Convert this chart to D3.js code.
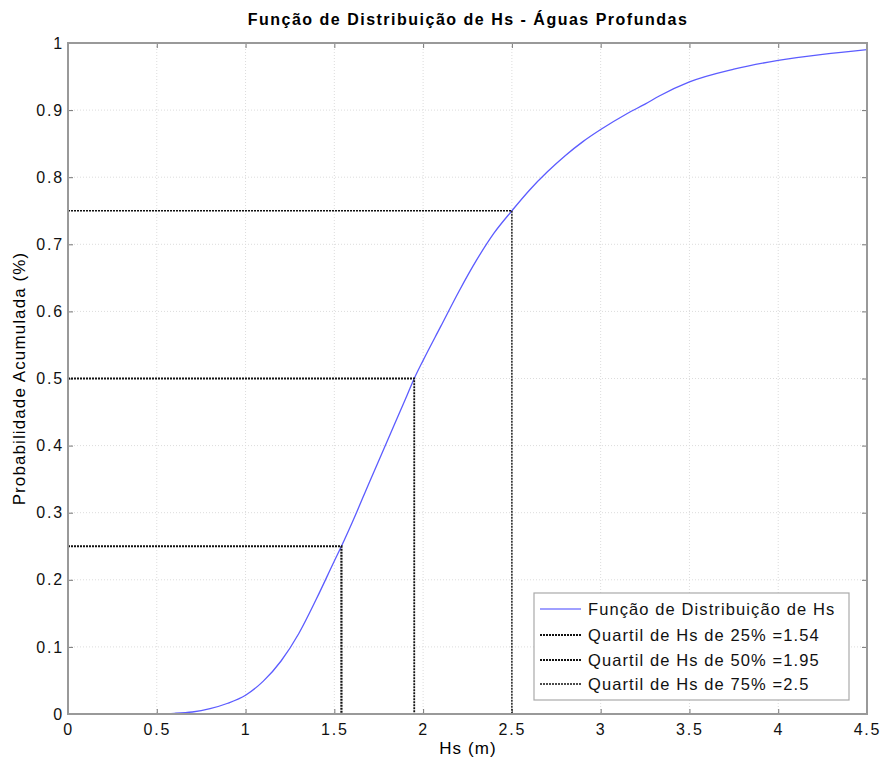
<!DOCTYPE html>
<html><head><meta charset="utf-8">
<script src="https://cdn.jsdelivr.net/npm/d3@7"></script>
<style>body{margin:0;background:#fff;} text{font-family:"Liberation Sans",Arial,sans-serif;}</style>
</head><body>
<svg id="chart" width="885" height="762"></svg>
<script>
const hsValues = [0.45,0.55,0.6,0.7,0.8,0.9,1.0,1.1,1.2,1.3,1.4,1.5,1.54,1.6,1.7,1.8,1.9,1.95,2.0,2.1,2.2,2.3,2.4,2.5,2.6,2.7,2.8,2.9,3.0,3.15,3.25,3.33,3.5,3.75,4.0,4.25,4.5];
const cdfValues = [0,0.0005,0.001,0.003,0.008,0.016,0.028,0.049,0.079,0.12,0.172,0.228,0.25,0.285,0.347,0.408,0.469,0.5,0.527,0.578,0.629,0.676,0.717,0.75,0.781,0.808,0.832,0.853,0.871,0.895,0.909,0.921,0.942,0.961,0.974,0.983,0.99];
const quartileProbs = [0.25,0.5,0.75];
const quartileHs = [1.54,1.95,2.5];
const legendLabels = ["Função de Distribuição de Hs","Quartil de Hs de 25% =1.54","Quartil de Hs de 50% =1.95","Quartil de Hs de 75% =2.5"];
const xTicks = [0,0.5,1,1.5,2,2.5,3,3.5,4,4.5];
const yTicks = [0,0.1,0.2,0.3,0.4,0.5,0.6,0.7,0.8,0.9,1];

const svg = d3.select("#chart");
const L=68, R=867, T=43, B=714;
const x = d3.scaleLinear().domain([0,4.5]).range([L,R]);
const y = d3.scaleLinear().domain([0,1]).range([B,T]);

// grid
const g = svg.append("g");
g.selectAll(".gx").data(xTicks.slice(1,-1)).enter().append("line")
  .attr("x1",d=>x(d)).attr("x2",d=>x(d)).attr("y1",T).attr("y2",B)
  .attr("stroke","#dcdcdc").attr("stroke-width",1).attr("stroke-dasharray","1,2");
g.selectAll(".gy").data(yTicks.slice(1,-1)).enter().append("line")
  .attr("y1",d=>y(d)).attr("y2",d=>y(d)).attr("x1",L).attr("x2",R)
  .attr("stroke","#dcdcdc").attr("stroke-width",1).attr("stroke-dasharray","1,2");

// axes
const xAxisB = d3.axisBottom(x).tickValues(xTicks).tickSize(-5).tickPadding(10).tickFormat(d=>String(d));
const xAxisT = d3.axisTop(x).tickValues(xTicks).tickSize(-5).tickFormat("");
const yAxisL = d3.axisLeft(y).tickValues(yTicks).tickSize(-5).tickPadding(4).tickFormat(d=>String(d));
const yAxisR = d3.axisRight(y).tickValues(yTicks).tickSize(-5).tickFormat("");
function style(sel){
  sel.select(".domain").remove();
  sel.selectAll(".tick line").attr("stroke","#777").attr("stroke-width",1);
  sel.selectAll(".tick text").attr("fill","#111").style("font-size","16px")
    .style("letter-spacing","1.8px").style("font-family","Liberation Sans, Arial, sans-serif");
}
svg.append("g").attr("transform",`translate(0,${B})`).call(xAxisB).call(style);
svg.append("g").attr("transform",`translate(0,${T})`).call(xAxisT).call(style);
svg.append("g").attr("transform",`translate(${L},0)`).call(yAxisL).call(style);
svg.append("g").attr("transform",`translate(${R},0)`).call(yAxisR).call(style);

// curve
const pts = hsValues.map((h,i)=>[h,cdfValues[i]]);
svg.append("path").datum(pts)
  .attr("d", d3.line().x(d=>x(d[0])).y(d=>y(d[1])).curve(d3.curveMonotoneX))
  .attr("fill","none").attr("stroke","#5c5cff").attr("stroke-width",1.3);

// quartiles
const qWidths=[2.2,1.8,1.4];
quartileProbs.forEach((p,i)=>{
  const q = quartileHs[i];
  svg.append("path").attr("d",`M${x(0)},${y(p)}H${x(q)}V${y(0)}`)
    .attr("fill","none").attr("stroke","#111").attr("stroke-width",qWidths[i]).attr("stroke-dasharray","2,1");
});

// box
svg.append("rect").attr("x",L).attr("y",T).attr("width",R-L).attr("height",B-T)
  .attr("fill","none").attr("stroke","#999").attr("stroke-width",2);

// legend
const lg = svg.append("g");
lg.append("rect").attr("x",534).attr("y",593).attr("width",315).attr("height",107)
  .attr("fill","#fff").attr("stroke","#aaa").attr("stroke-width",1.2);
const rowY=[609,635,660,684];
legendLabels.forEach((t,i)=>{
  const ln = lg.append("line").attr("x1",540).attr("x2",581).attr("y1",rowY[i]).attr("y2",rowY[i]);
  if(i===0) ln.attr("stroke","#8080ff").attr("stroke-width",1.5);
  else ln.attr("stroke","#111").attr("stroke-width",qWidths[i-1]).attr("stroke-dasharray","2,1");
  lg.append("text").attr("x",588).attr("y",rowY[i]+6).text(t)
    .style("font-size","16.5px").style("letter-spacing","1.1px").attr("fill","#111");
});

// titles
svg.append("text").attr("x",468).attr("y",25).attr("text-anchor","middle")
  .style("font-size","16px").style("letter-spacing","1.5px").style("font-weight","bold")
  .text("Função de Distribuição de Hs - Águas Profundas");
svg.append("text").attr("x",468).attr("y",754).attr("text-anchor","middle")
  .style("font-size","17px").style("letter-spacing","1.1px").text("Hs (m)");
svg.append("text").attr("transform",`translate(25,${(T+B)/2}) rotate(-90)`).attr("text-anchor","middle")
  .style("font-size","17px").style("letter-spacing","1.1px").text("Probabilidade Acumulada (%)");
</script>
</body></html>
